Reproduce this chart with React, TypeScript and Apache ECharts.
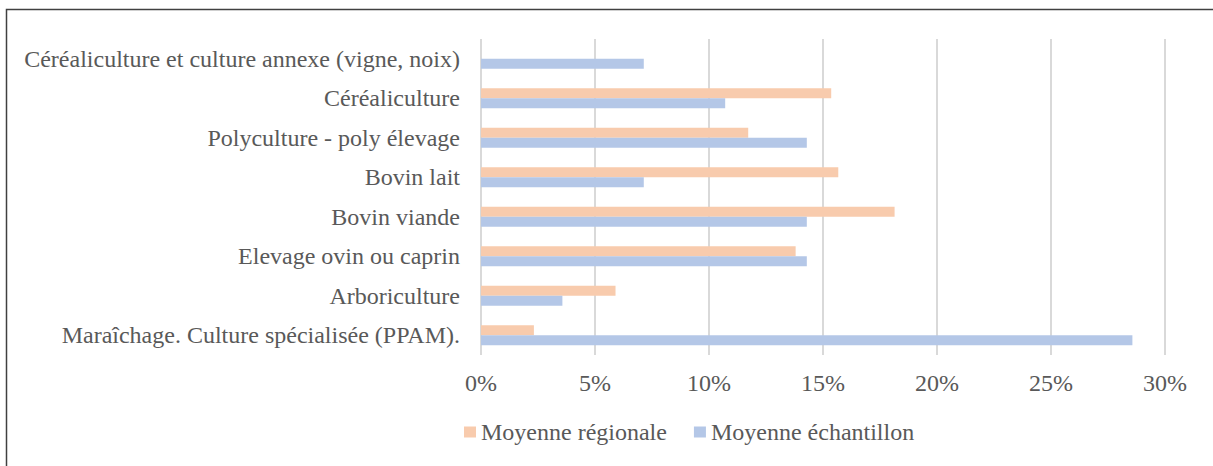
import React, { useEffect, useRef } from "react";
import * as echarts from "echarts";

const categories = [
  "Céréaliculture et culture annexe (vigne, noix)",
  "Céréaliculture",
  "Polyculture - poly élevage",
  "Bovin lait",
  "Bovin viande",
  "Elevage ovin ou caprin",
  "Arboriculture",
  "Maraîchage. Culture spécialisée (PPAM).",
];
const seriesNames = ["Moyenne régionale", "Moyenne échantillon"];
const moyenneRegionale = [null, 15.36, 11.72, 15.67, 18.14, 13.8, 5.9, 2.32];
const moyenneEchantillon = [7.14, 10.71, 14.29, 7.14, 14.29, 14.29, 3.57, 28.57];
const xTicks = { min: 0, max: 30, interval: 5 };

const FONT = "Times New Roman, Liberation Serif, DejaVu Serif, serif";
const TEXT = "#595959";
const FS = 24;

export default function App() {
  const ref = useRef<HTMLDivElement>(null);
  useEffect(() => {
    document.body.style.margin = "0";
    const chart = echarts.init(ref.current!, null, { renderer: "svg" });
    chart.setOption({
      animation: false,
      backgroundColor: "#ffffff",
      textStyle: { fontFamily: FONT },
      grid: { left: 481, right: 48, top: 39, bottom: 111, containLabel: false },
      legend: {
        data: seriesNames,
        bottom: 17,
        left: 459,
        itemWidth: 12,
        itemHeight: 11,
        itemGap: 27,
        icon: "rect",
        textStyle: { fontFamily: FONT, fontSize: FS, color: TEXT },
      },
      xAxis: {
        type: "value",
        min: xTicks.min,
        max: xTicks.max,
        interval: xTicks.interval,
        axisLine: { show: false },
        axisTick: { show: false },
        axisLabel: {
          formatter: "{value}%",
          fontFamily: FONT,
          fontSize: FS,
          color: TEXT,
          margin: 16,
        },
        splitLine: { show: true, lineStyle: { color: "#d9d9d9", width: 2 } },
      },
      yAxis: {
        type: "category",
        data: categories,
        inverse: true,
        axisLine: { show: false },
        axisTick: { show: false },
        axisLabel: {
          fontFamily: FONT,
          fontSize: FS,
          color: TEXT,
          margin: 21,
        },
      },
      series: [
        {
          name: seriesNames[0],
          type: "bar",
          data: moyenneRegionale,
          barWidth: 10,
          barGap: "0%",
          itemStyle: { color: "#f8cbad" },
        },
        {
          name: seriesNames[1],
          type: "bar",
          data: moyenneEchantillon,
          barWidth: 10,
          barGap: "0%",
          itemStyle: { color: "#b4c7e7" },
        },
      ],
      graphic: [
        {
          type: "rect",
          shape: { x: 6.5, y: 9.5, width: 1300, height: 600 },
          style: { fill: "none", stroke: "#404040", lineWidth: 1.5 },
          silent: true,
        },
      ],
    });
    return () => chart.dispose();
  }, []);
  return (
    <div
      ref={ref}
      style={{ position: "fixed", left: 0, top: 0, width: 1213, height: 466 }}
    />
  );
}
